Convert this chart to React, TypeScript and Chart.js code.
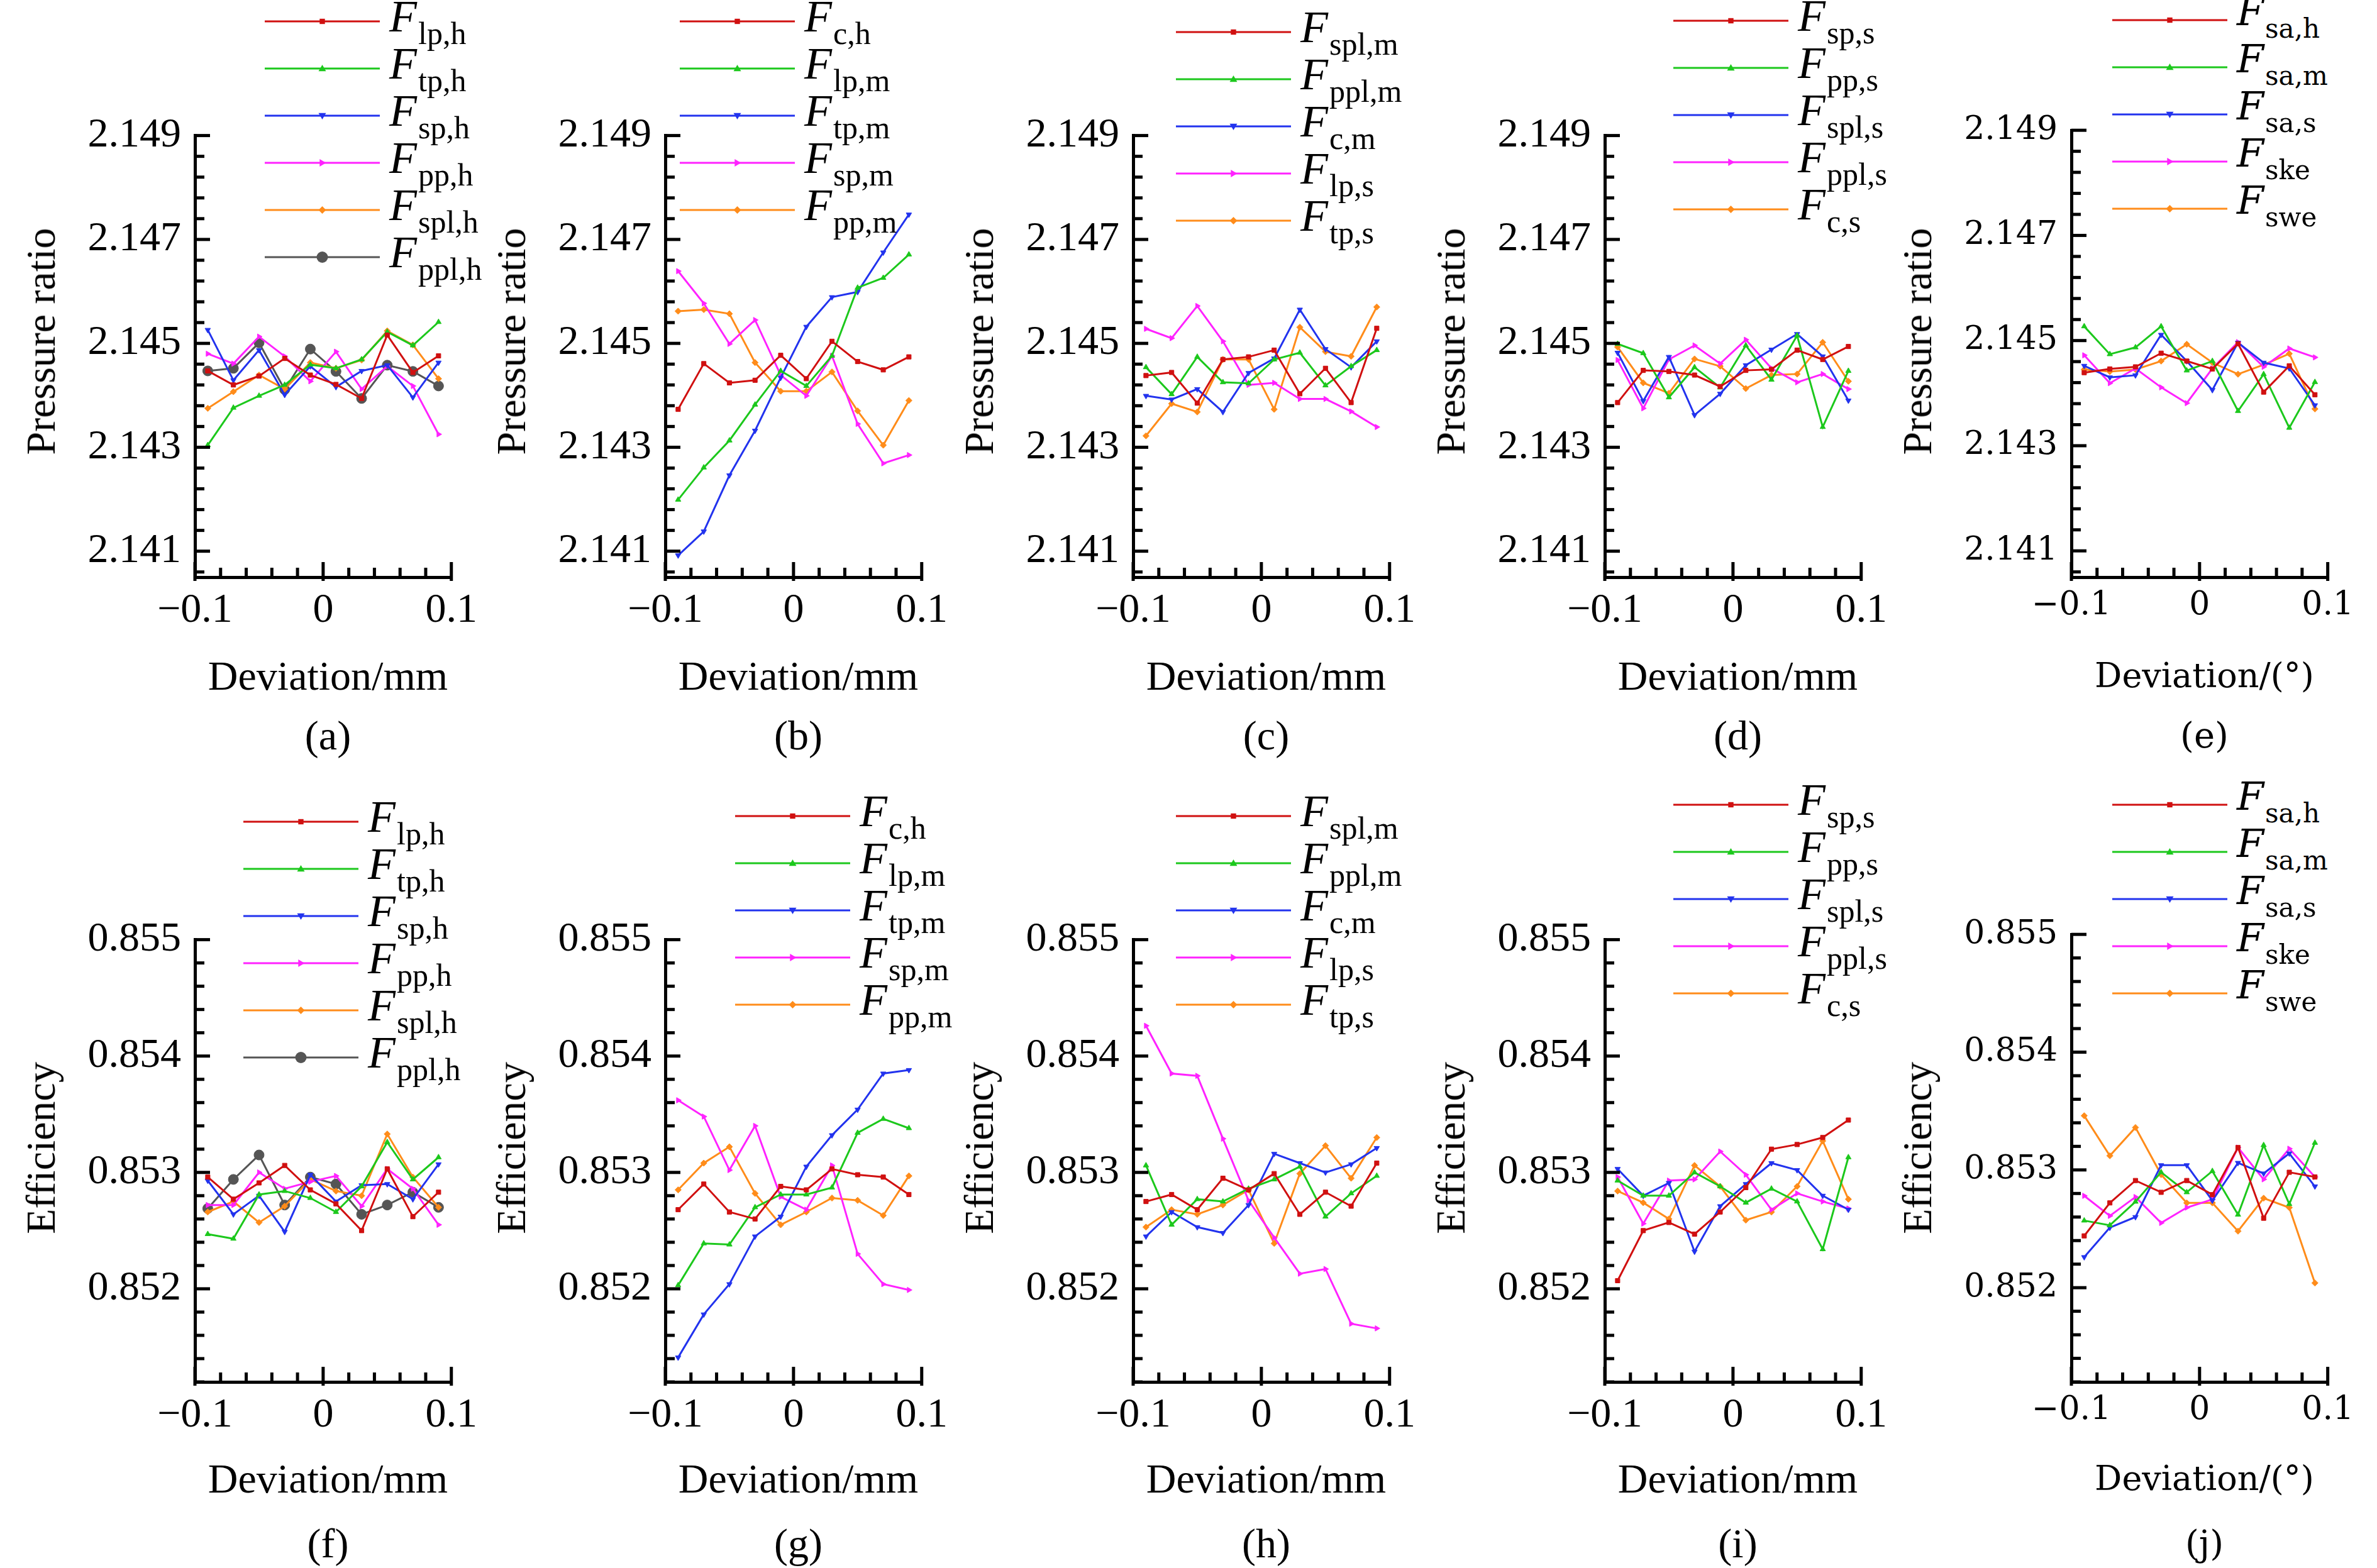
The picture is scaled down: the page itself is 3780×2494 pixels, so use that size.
import React, { useEffect, useRef } from "react";
import { Chart, registerables } from "chart.js";
Chart.register(...registerables);

const XS = [-0.09, -0.07, -0.05, -0.03, -0.01, 0.01, 0.03, 0.05, 0.07, 0.09];
const X_TICKS = [-0.1, 0, 0.1];

// (a) pressure ratio
const A_LABELS = ["lp,h", "tp,h", "sp,h", "pp,h", "spl,h", "ppl,h"];
const A_LP_H = [2.14447, 2.1442, 2.14437, 2.14471, 2.14439, 2.14421, 2.14394, 2.14516, 2.14444, 2.14476];
const A_TP_H = [2.14304, 2.14376, 2.14399, 2.1442, 2.14459, 2.14452, 2.14469, 2.14522, 2.14496, 2.14541];
const A_SP_H = [2.14526, 2.14429, 2.14487, 2.14401, 2.14456, 2.14416, 2.14447, 2.14458, 2.14396, 2.14463];
const A_PP_H = [2.1448, 2.14461, 2.14513, 2.14475, 2.14427, 2.14484, 2.14412, 2.14456, 2.14418, 2.14325];
const A_SPL_H = [2.14375, 2.14407, 2.14439, 2.14412, 2.14463, 2.14452, 2.14468, 2.14524, 2.14497, 2.14432];
const A_PPL_H = [2.14447, 2.14452, 2.14501, 2.14411, 2.14489, 2.14446, 2.14394, 2.14458, 2.14446, 2.14418];
// (b)
const B_LABELS = ["c,h", "lp,m", "tp,m", "sp,m", "pp,m"];
const B_C_H = [2.14373, 2.14461, 2.14424, 2.14429, 2.14477, 2.14432, 2.14504, 2.14465, 2.14449, 2.14474];
const B_LP_M = [2.14199, 2.14261, 2.14313, 2.14382, 2.14447, 2.14418, 2.14476, 2.14607, 2.14626, 2.14671];
const B_TP_M = [2.14092, 2.14138, 2.14246, 2.14332, 2.14434, 2.14532, 2.14589, 2.14599, 2.14675, 2.14748];
const B_SP_M = [2.14639, 2.14577, 2.14499, 2.14545, 2.14439, 2.14399, 2.14476, 2.14345, 2.14269, 2.14285];
const B_PP_M = [2.14562, 2.14565, 2.14557, 2.14463, 2.14408, 2.14408, 2.14445, 2.1437, 2.14304, 2.1439];
// (c)
const C_LABELS = ["spl,m", "ppl,m", "c,m", "lp,s", "tp,s"];
const C_SPL_M = [2.14438, 2.14444, 2.14385, 2.14469, 2.14474, 2.14487, 2.14403, 2.14452, 2.14386, 2.14529];
const C_PPL_M = [2.14454, 2.14402, 2.14474, 2.14425, 2.14423, 2.14469, 2.14482, 2.14419, 2.14456, 2.14487];
const C_C_M = [2.14399, 2.14392, 2.14412, 2.14368, 2.14443, 2.14471, 2.14565, 2.14489, 2.14454, 2.14504];
const C_LP_S = [2.14528, 2.1451, 2.14572, 2.14504, 2.1442, 2.14424, 2.14393, 2.14393, 2.14369, 2.14339];
const C_TP_S = [2.14322, 2.14384, 2.14368, 2.14469, 2.14469, 2.14373, 2.14531, 2.14484, 2.14475, 2.1457];
// (d)
const D_LABELS = ["sp,s", "pp,s", "spl,s", "ppl,s", "c,s"];
const D_SP_S = [2.14386, 2.14448, 2.14446, 2.14439, 2.14417, 2.14448, 2.1445, 2.14487, 2.14469, 2.14494];
const D_PP_S = [2.14499, 2.14481, 2.14396, 2.14454, 2.14415, 2.14496, 2.1443, 2.14515, 2.14339, 2.14447];
const D_SPL_S = [2.14482, 2.14389, 2.14474, 2.14362, 2.14403, 2.14458, 2.14488, 2.14518, 2.14475, 2.1439];
const D_PPL_S = [2.14468, 2.14375, 2.14469, 2.14496, 2.14461, 2.14507, 2.14452, 2.14425, 2.14441, 2.14412];
const D_C_S = [2.14493, 2.14424, 2.14404, 2.1447, 2.14456, 2.14413, 2.14439, 2.14441, 2.14502, 2.14427];
// (e)
const E_LABELS = ["sa,h", "sa,m", "sa,s", "ske", "swe"];
const E_SA_H = [2.14439, 2.14446, 2.1445, 2.14476, 2.14461, 2.14446, 2.14494, 2.14402, 2.14452, 2.14397];
const E_SA_M = [2.14527, 2.14474, 2.14487, 2.14527, 2.14443, 2.14461, 2.14366, 2.14436, 2.14334, 2.14421];
const E_SA_S = [2.14452, 2.1443, 2.14434, 2.14511, 2.14461, 2.14406, 2.14496, 2.14458, 2.14447, 2.14377];
const E_SKE = [2.14472, 2.14419, 2.14447, 2.14411, 2.14381, 2.14447, 2.14497, 2.1445, 2.14485, 2.14468];
const E_SWE = [2.14445, 2.14441, 2.14445, 2.14461, 2.14493, 2.14458, 2.14436, 2.14454, 2.14475, 2.1437];
// (f) efficiency
const F_LP_H = [0.85296, 0.85277, 0.85291, 0.85306, 0.85285, 0.85273, 0.8525, 0.85303, 0.85262, 0.85283];
const F_TP_H = [0.85247, 0.85243, 0.85281, 0.85284, 0.85278, 0.85266, 0.85288, 0.85326, 0.85294, 0.85313];
const F_SP_H = [0.85293, 0.85264, 0.8528, 0.85249, 0.85298, 0.85275, 0.85289, 0.8529, 0.85277, 0.85307];
const F_PP_H = [0.85272, 0.85272, 0.853, 0.85286, 0.85292, 0.85297, 0.85271, 0.85303, 0.85286, 0.85255];
const F_SPL_H = [0.85266, 0.85275, 0.85257, 0.85271, 0.85294, 0.85284, 0.8528, 0.85333, 0.85296, 0.8527];
const F_PPL_H = [0.85269, 0.85294, 0.85315, 0.85272, 0.85296, 0.8529, 0.85264, 0.85272, 0.85283, 0.8527];
// (g)
const G_C_H = [0.85268, 0.8529, 0.85266, 0.8526, 0.85288, 0.85285, 0.85303, 0.85298, 0.85296, 0.85281];
const G_LP_M = [0.85203, 0.85239, 0.85238, 0.8527, 0.85281, 0.85281, 0.85287, 0.85334, 0.85346, 0.85338];
const G_TP_M = [0.85141, 0.85178, 0.85204, 0.85245, 0.85262, 0.85305, 0.85332, 0.85354, 0.85385, 0.85388];
const G_SP_M = [0.85362, 0.85348, 0.85302, 0.8534, 0.85279, 0.85268, 0.85306, 0.8523, 0.85204, 0.85199];
const G_PP_M = [0.85285, 0.85308, 0.85322, 0.85282, 0.85255, 0.85266, 0.85278, 0.85276, 0.85263, 0.85297];
// (h)
const H_SPL_M = [0.85275, 0.85281, 0.85268, 0.85295, 0.85285, 0.85299, 0.85264, 0.85283, 0.85271, 0.85308];
const H_PPL_M = [0.85306, 0.85255, 0.85277, 0.85275, 0.85286, 0.85294, 0.85305, 0.85262, 0.85282, 0.85297];
const H_C_M = [0.85245, 0.85266, 0.85253, 0.85248, 0.85272, 0.85316, 0.85308, 0.853, 0.85307, 0.85321];
const H_LP_S = [0.85426, 0.85385, 0.85383, 0.85329, 0.85276, 0.85244, 0.85213, 0.85217, 0.8517, 0.85166];
const H_TP_S = [0.85253, 0.85268, 0.85264, 0.85272, 0.85285, 0.85239, 0.85299, 0.85323, 0.85295, 0.8533];
// (i)
const I_SP_S = [0.85207, 0.8525, 0.85257, 0.85247, 0.85266, 0.85287, 0.8532, 0.85324, 0.8533, 0.85345];
const I_PP_S = [0.85293, 0.8528, 0.8528, 0.853, 0.85288, 0.85274, 0.85286, 0.85275, 0.85234, 0.85313];
const I_SPL_S = [0.85303, 0.8528, 0.85291, 0.85232, 0.85271, 0.8529, 0.85308, 0.85302, 0.8528, 0.85268];
const I_PPL_S = [0.85296, 0.85256, 0.85293, 0.85294, 0.85318, 0.85298, 0.85268, 0.85282, 0.85275, 0.85269];
const I_C_S = [0.85284, 0.85274, 0.8526, 0.85306, 0.85288, 0.85259, 0.85266, 0.85288, 0.85327, 0.85277];
// (j)
const J_SA_H = [0.85244, 0.85272, 0.85291, 0.85281, 0.85291, 0.85279, 0.85319, 0.85259, 0.85298, 0.85294];
const J_SA_M = [0.85257, 0.85253, 0.85273, 0.85298, 0.85281, 0.85299, 0.85262, 0.85321, 0.85271, 0.85323];
const J_SA_S = [0.85226, 0.85251, 0.8526, 0.85304, 0.85304, 0.85274, 0.85306, 0.85297, 0.85314, 0.85286];
const J_SKE = [0.85278, 0.85261, 0.85277, 0.85255, 0.85268, 0.85275, 0.85319, 0.85292, 0.85318, 0.85294];
const J_SWE = [0.85346, 0.85312, 0.85336, 0.85296, 0.85272, 0.85272, 0.85248, 0.85276, 0.85268, 0.85204];

const COLORS = ["#d01010", "#1cc81c", "#2233ee", "#ff22ff", "#ff8c1a", "#555555"];
const STYLES: any[] = [
  ["rect", 0, 5], ["triangle", 0, 5], ["triangle", 180, 5], ["triangle", 90, 5], ["rectRot", 0, 5], ["circle", 0, 8],
];

const AX_LEFT = [310, 1058, 1802, 2552, 3294];
const PLOT_W = 423;
const ROWS = [
  { top: 174, bottom: 918, min: 2.1405, max: 2.149, step: 0.0004, base: 2.141, major: 0.002, nMinor: 5, title: "Pressure ratio" },
  { top: 1453, bottom: 2198, min: 0.8512, max: 0.855, step: 0.0002, base: 0.852, major: 0.001, nMinor: 5, title: "Efficiency" },
];

const PANELS = [
  { row: 0, col: 0, cap: "(a)", labels: A_LABELS, series: [A_LP_H, A_TP_H, A_SP_H, A_PP_H, A_SPL_H, A_PPL_H], lx: 111, ly: 34 },
  { row: 0, col: 1, cap: "(b)", labels: B_LABELS, series: [B_C_H, B_LP_M, B_TP_M, B_SP_M, B_PP_M], lx: 23, ly: 34 },
  { row: 0, col: 2, cap: "(c)", labels: C_LABELS, series: [C_SPL_M, C_PPL_M, C_C_M, C_LP_S, C_TP_S], lx: 68, ly: 51 },
  { row: 0, col: 3, cap: "(d)", labels: D_LABELS, series: [D_SP_S, D_PP_S, D_SPL_S, D_PPL_S, D_C_S], lx: 109, ly: 33 },
  { row: 0, col: 4, cap: "(e)", labels: E_LABELS, series: [E_SA_H, E_SA_M, E_SA_S, E_SKE, E_SWE], lx: 65, ly: 32, deg: true },
  { row: 1, col: 0, cap: "(f)", labels: A_LABELS, series: [F_LP_H, F_TP_H, F_SP_H, F_PP_H, F_SPL_H, F_PPL_H], lx: 77, ly: 1307 },
  { row: 1, col: 1, cap: "(g)", labels: B_LABELS, series: [G_C_H, G_LP_M, G_TP_M, G_SP_M, G_PP_M], lx: 111, ly: 1298 },
  { row: 1, col: 2, cap: "(h)", labels: C_LABELS, series: [H_SPL_M, H_PPL_M, H_C_M, H_LP_S, H_TP_S], lx: 68, ly: 1298 },
  { row: 1, col: 3, cap: "(i)", labels: D_LABELS, series: [I_SP_S, I_PP_S, I_SPL_S, I_PPL_S, I_C_S], lx: 109, ly: 1280 },
  { row: 1, col: 4, cap: "(j)", labels: E_LABELS, series: [J_SA_H, J_SA_M, J_SA_S, J_SKE, J_SWE], lx: 65, ly: 1280, deg: true },
];

const SERIF = "'Liberation Serif', 'Times New Roman', Times, serif";
const WIDE = "'DejaVu Serif', serif";
const PAD_TOP = 20, PAD_RIGHT = 40, Y_W = 300, X_H = 90;

const innerTicks = {
  id: "innerTicks",
  afterDraw(chart: any) {
    const ctx = chart.ctx;
    const a = chart.chartArea;
    ctx.save();
    ctx.strokeStyle = "#000";
    ctx.lineWidth = 5;
    const ys = chart.scales.y;
    ys.ticks.forEach((t: any) => {
      const p = ys.getPixelForValue(t.value);
      const major = t.label && t.label !== "";
      ctx.beginPath();
      ctx.moveTo(a.left, p);
      ctx.lineTo(a.left + (major ? 24 : 15), p);
      ctx.stroke();
    });
    const xs = chart.scales.x;
    xs.ticks.forEach((t: any) => {
      const p = xs.getPixelForValue(t.value);
      const major = t.label && t.label !== "";
      ctx.beginPath();
      ctx.moveTo(p, a.bottom + (major ? 6 : 0));
      ctx.lineTo(p, a.bottom - (major ? 24 : 15));
      ctx.stroke();
    });
    ctx.restore();
  },
};

function Panel({ p }: { p: any }) {
  const ref = useRef<HTMLCanvasElement>(null);
  const row = ROWS[p.row];
  const axL = AX_LEFT[p.col];
  const cw = Y_W + PLOT_W + PAD_RIGHT;
  const ch = PAD_TOP + (row.bottom - row.top) + X_H;
  const tickFont = p.deg ? { family: WIDE, size: 52 } : { family: SERIF, size: 66 };
  useEffect(() => {
    const chart = new Chart(ref.current!, {
      type: "line",
      data: {
        datasets: p.series.map((s: number[], i: number) => ({
          label: p.labels[i],
          data: s.map((v, k) => ({ x: XS[k], y: v })),
          borderColor: COLORS[i],
          backgroundColor: COLORS[i],
          borderWidth: 3,
          pointStyle: STYLES[i][0],
          rotation: STYLES[i][1],
          pointRadius: STYLES[i][2],
          pointBorderWidth: 1,
          tension: 0,
        })),
      },
      options: {
        animation: false,
        responsive: false,
        devicePixelRatio: 1,
        layout: { padding: { top: PAD_TOP, right: PAD_RIGHT, left: 0, bottom: 0 } },
        plugins: { legend: { display: false }, tooltip: { enabled: false } },
        scales: {
          x: {
            type: "linear",
            min: -0.1,
            max: 0.1,
            afterFit: (s: any) => { s.height = X_H; },
            afterBuildTicks: (s: any) => {
              const t = [];
              for (let k = -5; k <= 5; k++) t.push({ value: k * 0.02 });
              s.ticks = t;
            },
            grid: { display: false, drawTicks: false },
            border: { display: true, color: "#000", width: 5 },
            ticks: {
              autoSkip: false,
              maxRotation: 0,
              padding: 14,
              color: "#000",
              font: tickFont,
              callback: (v: any) => {
                const r = Math.round(v * 100);
                const hit = X_TICKS.find((t) => Math.round(t * 100) === r);
                if (hit === undefined) return "";
                return hit < 0 ? "\u2212" + Math.abs(hit).toFixed(1) : hit === 0 ? "0" : hit.toFixed(1);
              },
            },
          },
          y: {
            type: "linear",
            min: row.min,
            max: row.max,
            afterFit: (s: any) => { s.width = Y_W; },
            afterBuildTicks: (s: any) => {
              const t = [];
              for (let k = -10; k <= 40; k++) {
                const v = row.base + k * row.step;
                if (v >= row.min - 1e-9 && v <= row.max + 1e-9) t.push({ value: v, k });
              }
              s.ticks = t;
            },
            grid: { display: false, drawTicks: false },
            border: { display: true, color: "#000", width: 5 },
            ticks: {
              autoSkip: false,
              padding: 22,
              color: "#000",
              font: tickFont,
              callback: (v: any) => {
                const q = Math.round((v - row.base) / row.step);
                return q >= 0 && q % row.nMinor === 0 ? Number(v).toFixed(3) : "";
              },
            },
          },
        },
      },
      plugins: [innerTicks],
    } as any);
    return () => chart.destroy();
  }, []);

  const captionTop = p.row === 0 ? 1170 : 2455;
  const xTitleTop = p.row === 0 ? 1075 : 2352;
  const titleCenterY = (row.top + row.bottom) / 2 + (p.row === 0 ? -3 : 0);
  const subFont = p.deg ? WIDE : SERIF;
  return (
    <>
      <canvas ref={ref} width={cw} height={ch}
        style={{ position: "absolute", left: axL - Y_W, top: row.top - PAD_TOP, width: cw, height: ch }} />
      <div style={{
        position: "absolute", left: axL - 245, top: titleCenterY, width: 0, height: 0,
      }}>
        <div style={{
          position: "absolute", transform: "translate(-50%,-50%) rotate(-90deg)", whiteSpace: "nowrap",
          fontFamily: SERIF, fontSize: 66, lineHeight: 1, color: "#000",
        }}>{row.title}</div>
      </div>
      <div style={{
        position: "absolute", left: axL + PLOT_W / 2 - 300, width: 600, top: xTitleTop, transform: "translateY(-50%)",
        textAlign: "center", fontFamily: p.deg ? WIDE : SERIF, fontSize: p.deg ? 54 : 66, lineHeight: 1, color: "#000",
      }}>{p.deg ? "Deviation/(\u00b0)" : "Deviation/mm"}</div>
      <div style={{
        position: "absolute", left: axL + PLOT_W / 2 - 300, width: 600, top: captionTop, transform: "translateY(-50%)",
        textAlign: "center", fontFamily: p.deg ? WIDE : SERIF, fontSize: p.deg ? 56 : 66, lineHeight: 1, color: "#000",
      }}>{p.cap}</div>
      {p.labels.map((lab: string, i: number) => {
        const y = p.ly + i * 75;
        const x0 = axL + p.lx;
        const [shape, rot, r] = STYLES[i];
        const cx = 91.5, cy = 10;
        let marker: any;
        const s = r + 1;
        if (shape === "rect") marker = <rect x={cx - s * 0.7} y={cy - s * 0.7} width={s * 1.4} height={s * 1.4} fill={COLORS[i]} />;
        else if (shape === "rectRot") marker = <polygon points={`${cx},${cy - s} ${cx + s},${cy} ${cx},${cy + s} ${cx - s},${cy}`} fill={COLORS[i]} />;
        else if (shape === "circle") marker = <circle cx={cx} cy={cy} r={s} fill={COLORS[i]} />;
        else marker = <polygon transform={`rotate(${rot} ${cx} ${cy})`} points={`${cx},${cy - s} ${cx + s},${cy + s * 0.7} ${cx - s},${cy + s * 0.7}`} fill={COLORS[i]} />;
        return (
          <React.Fragment key={lab}>
            <svg width={183} height={20} style={{ position: "absolute", left: x0, top: y - 10 }}>
              <line x1={0} y1={10} x2={183} y2={10} stroke={COLORS[i]} strokeWidth={3} />
              {marker}
            </svg>
            <div style={{
              position: "absolute", left: x0 + 198, top: y - 44, whiteSpace: "nowrap", color: "#000", lineHeight: 1,
            }}>
              <span style={{ fontFamily: p.deg ? WIDE : SERIF, fontStyle: "italic", fontSize: p.deg ? 62 : 72 }}>F</span>
              <span style={{ fontFamily: subFont, fontSize: p.deg ? 42 : 50, position: "relative", top: 20, marginLeft: 2 }}>{lab}</span>
            </div>
          </React.Fragment>
        );
      })}
    </>
  );
}

export default function App() {
  return (
    <div style={{ position: "absolute", left: 0, top: 0, width: 3780, height: 2494, background: "#fff", overflow: "hidden" }}>
      {PANELS.map((p) => <Panel key={p.cap} p={p} />)}
    </div>
  );
}
